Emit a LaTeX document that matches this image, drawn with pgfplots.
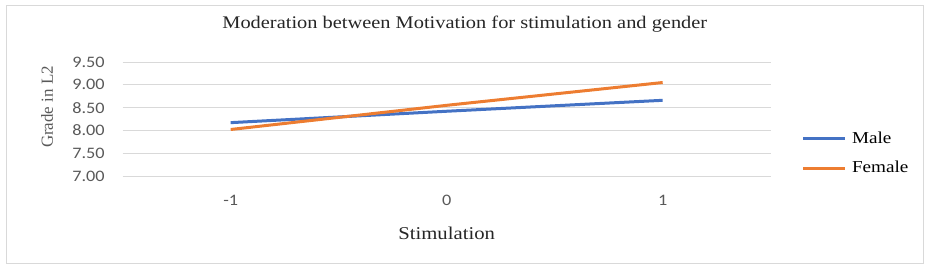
\documentclass[border=0pt]{standalone}
\usepackage{fontspec}
\setmainfont{Liberation Serif}[FakeStretch=1.15]
\newfontfamily\ylfont{Liberation Serif}
\newfontfamily\tickfont{Carlito}[FakeStretch=1.14]
\usepackage{pgfplots}
\pgfplotsset{compat=1.18}
\definecolor{exblue}{HTML}{4472C4}
\definecolor{exorange}{HTML}{ED7D31}
\definecolor{gridgray}{HTML}{D9D9D9}
\definecolor{ticktext}{HTML}{595959}
\definecolor{frame}{HTML}{D9D9D9}
\begin{document}
\begin{tikzpicture}
\path[use as bounding box] (0pt,0pt) rectangle (699.75pt,204pt);
\draw[frame, line width=0.75pt] (4.5pt,6.75pt) rectangle (692.25pt,199.5pt);
\begin{axis}[
  at={(92pt,72pt)}, anchor=south west,
  scale only axis, width=486pt, height=85.5pt,
  xmin=-1.5, xmax=1.5, ymin=7, ymax=9.5,
  xtick={-1,0,1},
  ytick={7,7.5,8,8.5,9,9.5},
  yticklabel style={/pgf/number format/fixed, /pgf/number format/fixed zerofill, /pgf/number format/precision=2},
  /pgf/number format/assume math mode=true,
  ticklabel style={font={\tickfont\fontsize{12}{14}\selectfont}, text=ticktext},
  yticklabel style={anchor=east, xshift=-10pt},
  xticklabel style={anchor=north, yshift=-10.5pt},
  axis line style={draw=none},
  major tick length=0pt,
  ymajorgrids, grid style={gridgray, line width=0.75pt},
  title={Moderation between Motivation for stimulation and gender},
  title style={at={(0.528,1.222)}, anchor=base, font=\fontsize{13.3}{15}\selectfont, text=black!85},
  xlabel={Stimulation},
  xlabel style={at={(0.5,-0.553)}, anchor=base, font=\fontsize{13.5}{15}\selectfont, text=black!85},
  ylabel={Grade in L2},
  ylabel style={at={(-0.1076,0.605)}, anchor=base, text=ticktext,
    font={\ylfont\fontsize{12.7}{14}\selectfont}},
  legend style={at={(1.0475,0.193)}, anchor=west, draw=none, fill=none, inner sep=0pt,
    row sep=10.5pt, column sep=4.5pt,
    nodes={text height=9pt, text depth=3pt, inner sep=0pt, font=\fontsize{12.5}{14}\selectfont}},
  legend cell align=left,
  legend image code/.code={\draw[#1] (0pt,0pt) -- (31pt,0pt);},
  every axis plot/.append style={line width=2.25pt},
]
\addplot[exblue] coordinates {(-1,8.17) (0,8.42) (1,8.66)};
\addlegendentry{Male}
\addplot[exorange] coordinates {(-1,8.02) (0,8.55) (1,9.05)};
\addlegendentry{Female}
\end{axis}
\end{tikzpicture}
\end{document}
